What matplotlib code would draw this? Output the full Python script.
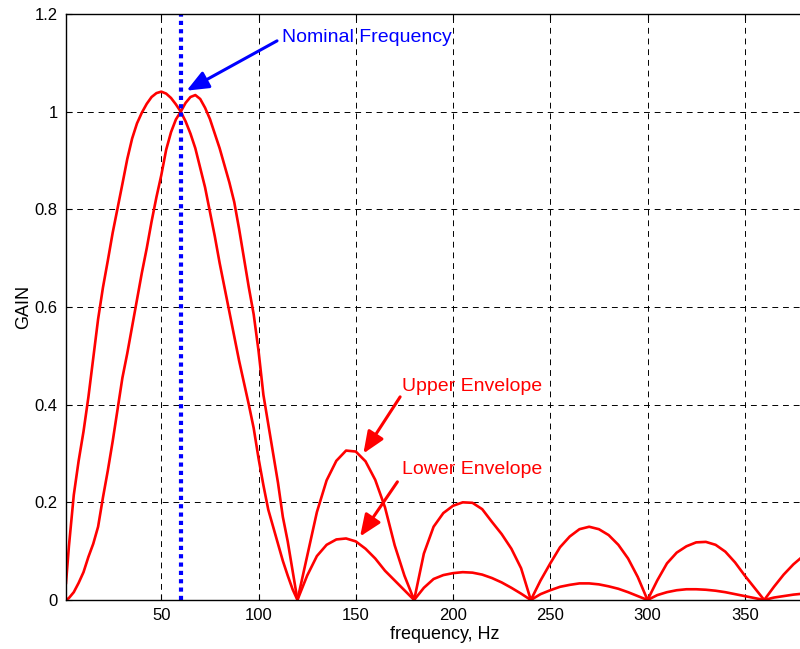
import matplotlib
matplotlib.use("Agg")
import matplotlib.pyplot as plt

plt.rcParams['font.family'] = ['Liberation Sans', 'DejaVu Sans']

# frequency samples, Hz
freq = [1, 2.5, 5, 7.5, 10, 12.5, 15, 17.5, 20, 22.5, 25, 27.5, 30, 32.5, 35, 37.5,
        40, 42.5, 45, 47.5, 50, 52.5, 55, 57.5, 60, 62.5, 65, 67.5, 70, 72.5, 75, 77.5,
        80, 82.5, 85, 87.5, 90, 92.5, 95, 97.5, 100, 102.5, 105, 107.5, 110, 112.5, 115, 117.5,
        120, 125, 130, 135, 140, 145, 150, 155, 160, 165, 170, 175,
        180, 185, 190, 195, 200, 205, 210, 215, 220, 225, 230, 235,
        240, 245, 250, 255, 260, 265, 270, 275, 280, 285, 290, 295,
        300, 305, 310, 315, 320, 325, 330, 335, 340, 345, 350, 355,
        360, 365, 370, 375, 380]

upper_gain = [0.035, 0.11, 0.215, 0.285, 0.345, 0.415, 0.495, 0.575, 0.64, 0.695, 0.752, 0.802,
              0.852, 0.903, 0.945, 0.976, 0.998, 1.016, 1.030, 1.038, 1.041, 1.037, 1.028, 1.015,
              1.0, 0.98, 0.955, 0.925, 0.885, 0.845, 0.795, 0.745, 0.69, 0.64, 0.59, 0.54,
              0.49, 0.445, 0.40, 0.352, 0.29, 0.235, 0.185, 0.15, 0.115, 0.08, 0.05, 0.022,
              0.0, 0.09, 0.18, 0.245, 0.285, 0.306, 0.304, 0.284, 0.246, 0.19, 0.112, 0.05,
              0.0, 0.095, 0.15, 0.178, 0.193, 0.2, 0.199, 0.186, 0.16, 0.135, 0.105, 0.065,
              0.0, 0.04, 0.075, 0.108, 0.13, 0.145, 0.15, 0.145, 0.133, 0.113, 0.085, 0.047,
              0.0, 0.04, 0.075, 0.097, 0.11, 0.118, 0.119, 0.113, 0.099, 0.077, 0.05, 0.025,
              0.0, 0.027, 0.052, 0.073, 0.09]

lower_gain = [0.0, 0.004, 0.016, 0.035, 0.057, 0.088, 0.115, 0.15, 0.21, 0.265, 0.325, 0.39,
              0.455, 0.505, 0.56, 0.615, 0.67, 0.72, 0.775, 0.825, 0.87, 0.922, 0.958, 0.984,
              1.0, 1.018, 1.030, 1.034, 1.026, 1.008, 0.985, 0.955, 0.925, 0.89, 0.855, 0.815,
              0.76, 0.70, 0.64, 0.585, 0.51, 0.42, 0.36, 0.30, 0.24, 0.17, 0.12, 0.06,
              0.0, 0.05, 0.09, 0.113, 0.124, 0.126, 0.12, 0.105, 0.085, 0.06, 0.04, 0.02,
              0.0, 0.025, 0.043, 0.051, 0.055, 0.057, 0.056, 0.052, 0.045, 0.036, 0.025, 0.013,
              0.0, 0.012, 0.02, 0.027, 0.031, 0.034, 0.034, 0.032, 0.028, 0.023, 0.016, 0.008,
              0.0, 0.01, 0.016, 0.02, 0.022, 0.022, 0.021, 0.019, 0.016, 0.012, 0.008, 0.004,
              0.0, 0.005, 0.008, 0.011, 0.013]

nominal_freq = 60
x_ticks = [50, 100, 150, 200, 250, 300, 350]
y_ticks = [0, 0.2, 0.4, 0.6, 0.8, 1.0, 1.2]
y_tick_labels = ['0', '0.2', '0.4', '0.6', '0.8', '1', '1.2']

fig = plt.figure(figsize=(8.0, 6.49), dpi=100)
ax = fig.add_axes([66 / 800, 49 / 649, 734 / 800, 586 / 649])

ax.plot(freq, upper_gain, color='#ff0000', lw=1.9)
ax.plot(freq, lower_gain, color='#ff0000', lw=1.9)
ax.plot([nominal_freq, nominal_freq], [0, 1.2], color='#0000ff', lw=3,
        linestyle=(0, (1, 1)))

ax.set_xlim(1, 378.4)
ax.set_ylim(0, 1.2)
ax.set_xticks(x_ticks)
ax.set_yticks(y_ticks)
ax.set_yticklabels(y_tick_labels)
ax.tick_params(direction='in', length=4, labelsize=12, top=True, right=False, pad=6)
ax.spines['right'].set_visible(False)
for s in ['left', 'top', 'bottom']:
    ax.spines[s].set_linewidth(1.0)

ax.grid(True, color='black', lw=0.7, linestyle=(0, (6, 5)))
ax.set_axisbelow(True)

ax.set_xlabel('frequency, Hz', fontsize=13)
ax.set_ylabel('GAIN', fontsize=13, labelpad=2)
ax.xaxis.set_label_coords(379 / 734, -0.044)

arrow_kw = dict(arrowstyle='-|>,head_length=0.6,head_width=0.25', lw=2.2,
                mutation_scale=22, shrinkA=0, shrinkB=0)
ax.annotate('', xy=(63, 1.043), xytext=(109.5, 1.145),
            arrowprops=dict(color='#0000ff', **arrow_kw))
ax.text(112, 1.151, 'Nominal Frequency', color='#0000ff', fontsize=14, va='center')

ax.annotate('', xy=(153.9, 0.30), xytext=(172.8, 0.416),
            arrowprops=dict(color='#ff0000', **arrow_kw))
ax.text(174, 0.438, 'Upper Envelope', color='#ff0000', fontsize=14, va='center')

ax.annotate('', xy=(152.2, 0.13), xytext=(171.4, 0.242),
            arrowprops=dict(color='#ff0000', **arrow_kw))
ax.text(174, 0.268, 'Lower Envelope', color='#ff0000', fontsize=14, va='center')

fig.savefig('out.png', dpi=100)
